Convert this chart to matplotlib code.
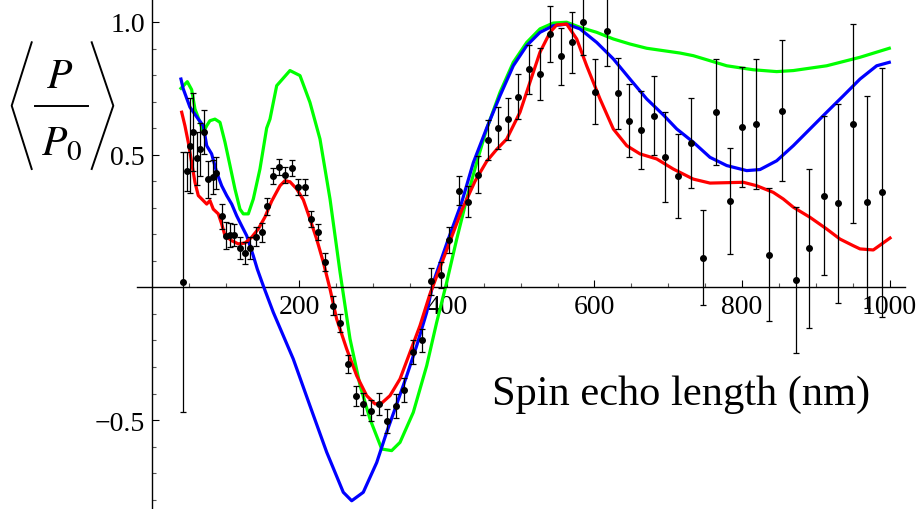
import numpy as np
import matplotlib
matplotlib.use("Agg")
import matplotlib.pyplot as plt
from matplotlib.lines import Line2D
from matplotlib.ticker import FixedLocator

plt.rcParams["font.family"] = ["Liberation Serif", "DejaVu Serif"]
plt.rcParams["mathtext.fontset"] = "stix"

# Measured polarisation with statistical errors
echo_nm = [42, 47, 51.5, 55.2, 60.6, 65.1, 71, 76.3, 82.3, 86.8, 94.5, 100.3,
           105.8, 111.6, 119.3, 126.1, 132.9, 141, 148.7, 156.5, 164.5, 172.2,
           180.3, 189.4, 197.5, 207.5, 215.6, 225.5, 234.6, 245, 254.9, 266.2,
           276.2, 285.7, 297, 307.8, 319.1, 330.8, 341.7, 354.3, 365.7, 377.9,
           391.5, 402.7, 416.7, 428, 441.6, 455.2, 469.2, 483.2, 496.7, 510.8,
           526.1, 539.7, 555, 569, 584.4, 600.7, 616.5, 631.4, 647.1, 663.1,
           680.2, 696, 713.7, 730.8, 746.7, 764.7, 783.7, 799.5, 819, 836.6,
           854.7, 873.7, 891.3, 910.7, 930.6, 950, 969.5, 989.4]
polar = [0.02, 0.437, 0.534, 0.587, 0.486, 0.521, 0.584, 0.408, 0.415, 0.431,
         0.268, 0.195, 0.197, 0.197, 0.148, 0.13, 0.148, 0.191, 0.207, 0.305,
         0.421, 0.455, 0.425, 0.45, 0.377, 0.377, 0.258, 0.208, 0.095, -0.069,
         -0.134, -0.289, -0.41, -0.439, -0.464, -0.439, -0.502, -0.446, -0.385,
         -0.242, -0.2, 0.023, 0.047, 0.179, 0.364, 0.323, 0.425, 0.556, 0.599,
         0.634, 0.719, 0.822, 0.803, 0.955, 0.87, 0.923, 1.001, 0.737, 0.966,
         0.731, 0.628, 0.593, 0.647, 0.491, 0.419, 0.545, 0.112, 0.66, 0.327,
         0.604, 0.616, 0.123, 0.665, 0.028, 0.147, 0.345, 0.317, 0.616, 0.322,
         0.358]
polar_err = [0.49, 0.072, 0.18, 0.147, 0.1, 0.1, 0.083, 0.07, 0.065, 0.06,
             0.047, 0.05, 0.045, 0.04, 0.04, 0.04, 0.04, 0.035, 0.035, 0.033,
             0.03, 0.03, 0.03, 0.03, 0.03, 0.03, 0.03, 0.03, 0.035, 0.035,
             0.035, 0.035, 0.038, 0.04, 0.04, 0.04, 0.045, 0.045, 0.045, 0.045,
             0.045, 0.05, 0.05, 0.05, 0.055, 0.058, 0.07, 0.075, 0.079, 0.08,
             0.086, 0.092, 0.098, 0.105, 0.108, 0.115, 0.125, 0.123, 0.133,
             0.135, 0.138, 0.148, 0.15, 0.17, 0.159, 0.17, 0.178, 0.2, 0.2,
             0.226, 0.244, 0.25, 0.266, 0.275, 0.3, 0.3, 0.375, 0.375, 0.4, 0.47]

# Model curves
red_x = [40.3, 44.7, 49.2, 53.8, 58.3, 62.8, 69.6, 74.2, 78.6, 83.1, 89.9, 94.5,
         99, 108.1, 117, 126.1, 135.2, 144.1, 153.2, 162.3, 173.6, 180.3, 187.1,
         196.2, 205.2, 214.2, 223.3, 232.3, 241.4, 250.4, 264, 277.6, 291.1,
         302.4, 311.5, 322.7, 336.3, 349.8, 363.4, 376.9, 401.8, 419.9, 438,
         453.8, 467.4, 481, 499, 512.5, 526.1, 539.7, 548.7, 562.3, 575.9,
         589.4, 607.5, 625.5, 643.7, 661.7, 684.3, 706.8, 734, 756.6, 801.8,
         819.9, 842.4, 856, 869.6, 892.2, 914.8, 932.9, 950.9, 960, 978, 1000.7]
red_y = [0.66, 0.609, 0.547, 0.471, 0.396, 0.346, 0.327, 0.314, 0.327, 0.295,
         0.277, 0.239, 0.195, 0.176, 0.164, 0.167, 0.189, 0.22, 0.265, 0.325,
         0.383, 0.402, 0.398, 0.371, 0.33, 0.258, 0.182, 0.095, -0.006, -0.119,
         -0.232, -0.333, -0.408, -0.439, -0.436, -0.408, -0.345, -0.245,
         -0.144, -0.025, 0.157, 0.29, 0.4, 0.475, 0.52, 0.559, 0.66, 0.773,
         0.886, 0.961, 0.989, 0.992, 0.936, 0.835, 0.71, 0.597, 0.534, 0.503,
         0.484, 0.446, 0.408, 0.393, 0.396, 0.383, 0.358, 0.333, 0.302, 0.264,
         0.22, 0.182, 0.157, 0.145, 0.141, 0.186]

blue_x = [39.3, 42.4, 51.5, 62.8, 69.6, 74.2, 80.9, 87.7, 94.5, 101.3, 108.1,
          114.8, 121.6, 128.4, 132.9, 137.4, 142.8, 150.9, 164.5, 191.6, 214.2,
          236.9, 259.4, 270.8, 286.5, 304.7, 318.2, 331.8, 345.4, 358.9, 372.5,
          381.4, 401.8, 419.9, 435.7, 453.8, 471.9, 489.9, 508.1, 526.1, 544.1,
          562.3, 580.3, 603, 625.5, 648.1, 670.8, 693.3, 711.5, 734, 756.6,
          779.3, 806.4, 824.4, 847, 869.6, 892.2, 914.8, 937.4, 960, 982.6,
          999.7]
blue_y = [0.785, 0.748, 0.679, 0.634, 0.609, 0.534, 0.503, 0.434, 0.383, 0.346,
          0.314, 0.27, 0.232, 0.195, 0.157, 0.119, 0.069, 0.006, -0.094, -0.27,
          -0.446, -0.621, -0.772, -0.804, -0.772, -0.66, -0.546, -0.44, -0.333,
          -0.22, -0.094, 0.019, 0.182, 0.32, 0.47, 0.6, 0.722, 0.835, 0.911,
          0.961, 0.986, 0.992, 0.974, 0.923, 0.861, 0.785, 0.71, 0.65, 0.597,
          0.547, 0.49, 0.459, 0.44, 0.444, 0.477, 0.534, 0.597, 0.66, 0.722,
          0.785, 0.835, 0.848]

green_x = [39.3, 47.9, 53.8, 58.3, 65.1, 69.6, 74.2, 78.6, 85.4, 92.2, 99,
           105.8, 112.5, 119.3, 123.8, 130.6, 137.4, 146.4, 155.5, 160, 169.1,
           187.1, 200.7, 214.2, 227.8, 241.4, 255, 268.5, 282.2, 295.6, 311.5,
           325, 336.3, 354.3, 372.5, 386, 399.6, 413.2, 426.7, 440.3, 453.8,
           471.9, 489.9, 508.1, 526.1, 544.1, 562.3, 580.3, 603, 625.5, 648.1,
           670.8, 693.3, 715.9, 734, 779.3, 815.3, 847, 869.6, 914.8, 960, 999.7]
green_y = [0.75, 0.775, 0.745, 0.672, 0.622, 0.584, 0.609, 0.628, 0.634, 0.622,
           0.547, 0.459, 0.371, 0.295, 0.277, 0.277, 0.333, 0.446, 0.6, 0.634,
           0.76, 0.817, 0.798, 0.697, 0.559, 0.333, 0.057, -0.194, -0.37,
           -0.496, -0.609, -0.615, -0.584, -0.471, -0.295, -0.132, 0.019, 0.182,
           0.333, 0.471, 0.597, 0.735, 0.848, 0.923, 0.974, 0.996, 0.999, 0.98,
           0.961, 0.936, 0.917, 0.901, 0.892, 0.883, 0.873, 0.835, 0.82, 0.813,
           0.817, 0.835, 0.867, 0.901]

x_major = [200, 400, 600, 800, 1000]
y_major = [-0.5, 0.5, 1.0]
y_major_labels = ["\u22120.5", "0.5", "1.0"]

W, H = 916, 510
fig = plt.figure(figsize=(W / 100, H / 100), dpi=100)
ax = fig.add_axes([137 / W, 0.0, (905 - 137) / W, 1.0])
ax.set_xlim(-20.3, 1021)
ax.set_ylim(-0.835, 1.0866)

lw = 2.3
ax.plot(green_x, green_y, color="#00ff00", lw=lw, zorder=2)
ax.plot(blue_x, blue_y, color="#0000ff", lw=lw, zorder=3)
ax.plot(red_x, red_y, color="#ff0000", lw=lw, zorder=4)
ax.errorbar(echo_nm, polar, yerr=polar_err, fmt="o", color="black", ms=4,
            elinewidth=0.9, capsize=2.5, capthick=0.9, zorder=5)

# Axes crossing at the origin
for side in ("top", "right"):
    ax.spines[side].set_visible(False)
ax.spines["left"].set_position(("data", 0))
ax.spines["bottom"].set_position(("data", 0))
for side in ("left", "bottom"):
    ax.spines[side].set_linewidth(1.0)
ax.patch.set_visible(False)

ax.xaxis.set_major_locator(FixedLocator(x_major))
ax.xaxis.set_minor_locator(FixedLocator([v for v in range(50, 1001, 50) if v % 200]))
ax.set_yticks(y_major)
ax.set_yticklabels(y_major_labels)
ax.yaxis.set_minor_locator(FixedLocator([round(v, 1) for v in np.arange(-0.8, 1.01, 0.1)
                                         if round(v, 1) not in (0.0, -0.5, 0.5, 1.0)]))
ax.tick_params(which="major", direction="in", length=5, width=0.8, labelsize=20, pad=5)
ax.tick_params(which="minor", direction="in", length=3, width=0.8, color="#555555")

fig.text(681 / W, 1 - 405 / H, "Spin echo length (nm)", fontsize=30.5,
         ha="center", va="baseline")


def fx(px):
    return px / W


def fy(py):
    return 1 - py / H


# Y-axis label: < P / P0 > built from the two symbols, a fraction bar
# and tall angle brackets
fig.text(fx(60), fy(88), r"$P$", fontsize=30, ha="center", va="baseline")
fig.text(fx(62), fy(155), r"$P_0$", fontsize=30, ha="center", va="baseline")
fig.add_artist(Line2D([fx(35), fx(88)], [fy(107), fy(107)], color="black",
                      lw=1.4, transform=fig.transFigure))
fig.add_artist(Line2D([fx(31.7), fx(11.7), fx(31.7)], [fy(43.3), fy(106.7), fy(170)],
                      color="black", lw=1.4, transform=fig.transFigure))
fig.add_artist(Line2D([fx(91.7), fx(113.3), fx(91.7)], [fy(43.3), fy(106.7), fy(170)],
                      color="black", lw=1.4, transform=fig.transFigure))

fig.savefig("out.png", dpi=100)
